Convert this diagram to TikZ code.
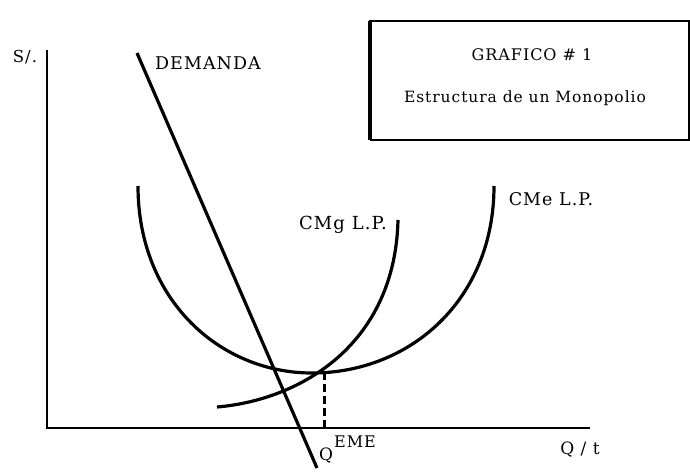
\documentclass[tikz,border=0pt]{standalone}
\usepackage{fontspec}
\setmainfont{DejaVu Serif}[LetterSpace=6]
\begin{document}
\begin{tikzpicture}[x=1pt,y=-1pt,
  curve/.style={line width=3.2pt},
  axisline/.style={line width=2.6pt},
  lbl/.style={inner sep=0pt,font=\fontsize{17}{19}\selectfont},
  boxline/.style={line width=1.8pt}]
\useasboundingbox (0,0) rectangle (690,471);
% axes
\coordinate (ytop) at (47,50);
\coordinate (orig) at (47,428);
\coordinate (xend) at (590,428);
\draw[axisline] (ytop) -- (orig) -- (xend);
% title box
\coordinate (b1) at (370,21);
\coordinate (b2) at (689,21);
\coordinate (b3) at (689,140);
\coordinate (b4) at (370,140);
\draw[boxline] (b4) -- (b1) -- (b2) -- (b3) -- (b4);
\draw[line width=3.4pt] (b1) -- (b4);
\node[lbl,font=\fontsize{16}{18}\selectfont] (title) at (532,55) {GRAFICO \# 1};
\node[lbl,font=\fontsize{15.5}{18}\selectfont] (sub) at (525,98) {Estructura de un Monopolio};
% demand
\coordinate (d1) at (137,53);
\coordinate (d2) at (317,468);
\draw[curve] (d1) -- (d2);
\node[lbl,font=\fontsize{17.5}{19}\selectfont] (dem) at (208,63) {DEMANDA};
% CMe (U curve)
\coordinate (e1) at (138,186);
\coordinate (emin) at (312,373);
\coordinate (e2) at (494,186);
\draw[curve] (e1) .. controls (138,300) and (220,373) .. (emin)
                  .. controls (410,373) and (494,300) .. (e2);
\node[lbl,font=\fontsize{17.5}{19}\selectfont] (cme) at (551,199) {CMe L.P.};
% CMg
\coordinate (g1) at (217,407);
\coordinate (g2) at (398,220);
\draw[curve] (g1) .. controls (300,400) and (395,345) .. (g2);
\node[lbl,font=\fontsize{18}{20}\selectfont] (cmg) at (343,225) {CMg L.P.};
% equilibrium
\coordinate (eq) at (324,372);
\coordinate (eqb) at (324,428);
\draw[line width=3pt,dash pattern=on 8pt off 4pt] (eq) -- (eqb);
% labels
\node[lbl,font=\fontsize{16.5}{18}\selectfont] (sol) at (25,57) {S/.};
\node[lbl,font=\fontsize{16}{18}\selectfont] (eme) at (355,442) {EME};
\node[lbl] (q) at (326,456) {Q};
\node[lbl] (qt) at (580,450) {Q / t};
\end{tikzpicture}
\end{document}
